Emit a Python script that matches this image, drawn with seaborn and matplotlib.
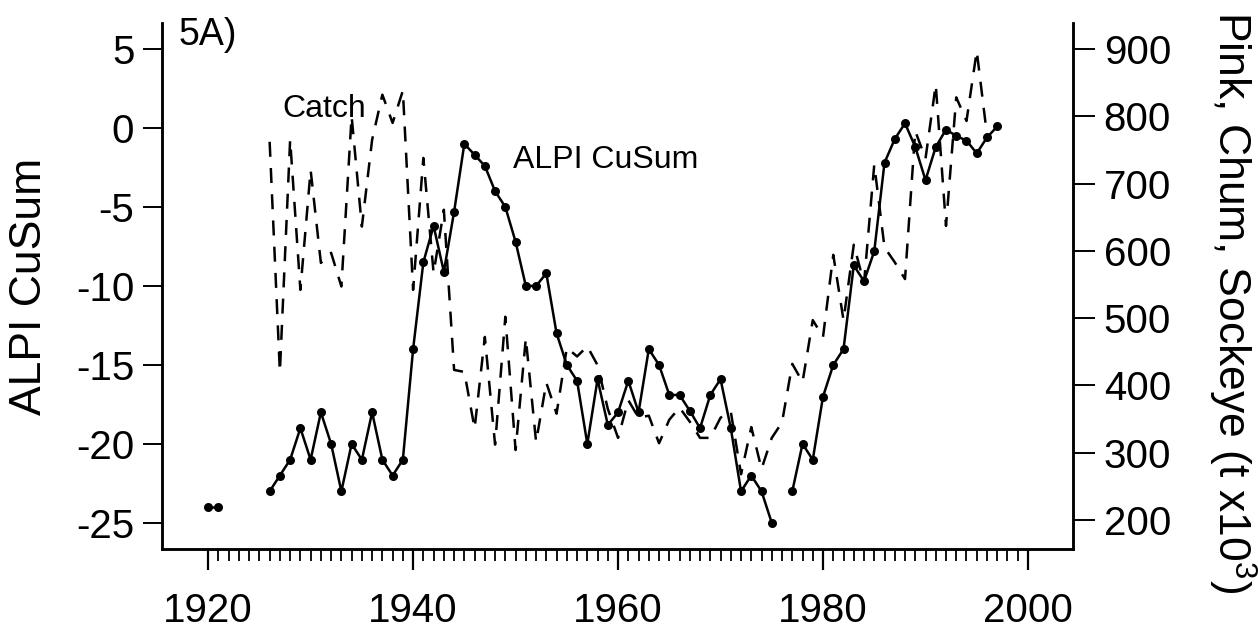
#!/usr/bin/env python3

import numpy as np
import pandas as pd
import seaborn as sns
from matplotlib import pyplot as plt
from matplotlib.ticker import FixedLocator

# ALPI CuSum, one value per year 1920-1997 (NaN = no data, line breaks there)
alpi_years = list(range(1920, 1998))
alpi_cusum = [
    -24, -24, np.nan, np.nan, np.nan, np.nan,
    -23, -22, -21, -19, -21, -18, -20, -23, -20, -21,
    -18, -21, -22, -21, -14, -8.5, -6.2, -9.1, -5.3, -1,
    -1.7, -2.4, -4, -5, -7.2, -10, -10, -9.2, -13, -15,
    -16, -20, -15.9, -18.8, -18, -16, -18, -14, -15, -16.9,
    -16.9, -17.9, -19, -16.9, -15.9, -19, -23, -22, -23, -25,
    np.nan, -23, -20, -21, -17, -15, -14, -8.7, -9.7, -7.8,
    -2.2, -0.7, 0.3, -1.2, -3.3, -1.2, -0.1, -0.5, -0.8, -1.6,
    -0.6, 0.1,
]

# Pink, chum, sockeye catch (t x10^3), 1926-1996
catch_years = list(range(1926, 1997))
catch = [
    762, 420, 765, 542, 720, 582, 597, 547, 800, 636,
    765, 832, 790, 838, 542, 738, 567, 661, 423, 420,
    336, 472, 312, 502, 304, 470, 316, 404, 358, 456,
    443, 458, 430, 365, 322, 378, 352, 355, 314, 349,
    367, 346, 322, 322, 352, 361, 268, 338, 276, 322,
    345, 432, 405, 497, 472, 594, 497, 609, 552, 728,
    605, 583, 558, 778, 737, 847, 637, 828, 793, 897,
    772,
]

sns.set_style("ticks")
plt.rcParams["font.family"] = ["Liberation Sans", "DejaVu Sans"]
plt.rcParams["axes.unicode_minus"] = False
plt.rcParams["text.color"] = "black"
plt.rcParams["axes.labelcolor"] = "black"
plt.rcParams["xtick.color"] = "black"
plt.rcParams["ytick.color"] = "black"

alpi_df = pd.DataFrame({"Year": alpi_years, "ALPI": alpi_cusum})
alpi_df["seg"] = alpi_df["ALPI"].isna().cumsum()
alpi_df = alpi_df.dropna()

catch_df = pd.DataFrame({"Year": catch_years, "Catch": catch})

fig = plt.figure(figsize=(12.58, 6.34), dpi=100)
ax = fig.add_axes([0.1288, 0.1341, 0.7242, 0.8297])
ax2 = ax.twinx()

# ALPI CuSum: solid line with dots
sns.lineplot(
    data=alpi_df,
    x="Year",
    y="ALPI",
    units="seg",
    estimator=None,
    ax=ax,
    color="black",
    lw=1.8,
    marker="o",
    markersize=6.5,
    markeredgewidth=0,
)

# Catch: dashed line on the right axis
sns.lineplot(
    data=catch_df,
    x="Year",
    y="Catch",
    ax=ax2,
    color="black",
    lw=1.8,
    linestyle=(0, (6, 4.5)),
)

# Axes limits and ticks
ax.set_xlim(1915.5, 2004.4)
ax.set_xticks([1920, 1940, 1960, 1980, 2000])
ax.xaxis.set_minor_locator(FixedLocator(range(1920, 2001)))
ax.set_ylim(-26.65, 6.65)
ax.set_yticks(range(-25, 6, 5))
ax2.set_ylim(156.9, 938.6)
ax2.set_yticks(range(200, 901, 100))

ax.tick_params(axis="x", which="major", length=15, width=1.6, labelsize=29, pad=16)
ax.tick_params(axis="x", which="minor", length=8.5, width=1.3)
ax.tick_params(axis="y", length=14, width=1.4, labelsize=29, pad=6)
ax2.tick_params(axis="y", length=16, width=1.4, labelsize=29, pad=6)

for a in (ax, ax2):
    a.spines["top"].set_visible(False)
    for side in ("left", "bottom", "right"):
        a.spines[side].set_linewidth(1.8)
        a.spines[side].set_color("black")

# Labels
ax.set_xlabel("")
ax.set_ylabel("ALPI CuSum", fontsize=32)
ax.yaxis.set_label_coords(-0.123, 0.5)
ax2.set_ylabel(
    "Pink, Chum, Sockeye (t x10$\\mathregular{^3}$)",
    fontsize=32,
    rotation=-90,
    va="center",
)
ax2.yaxis.set_label_coords(1.175, 0.47)

ax.text(1927.2, 0.7, "Catch", fontsize=23, ha="left", va="baseline")
ax.text(1949.7, -2.53, "ALPI CuSum", fontsize=23, ha="left", va="baseline")
ax.text(1917.1, 5.25, "5A)", fontsize=27, ha="left", va="baseline")

fig.savefig("out.png", dpi=100)
plt.close()
